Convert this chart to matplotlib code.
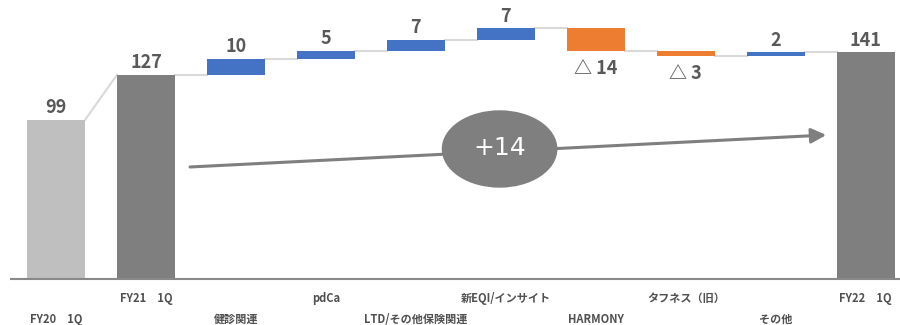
import matplotlib
matplotlib.use("Agg")
import matplotlib.pyplot as plt
from matplotlib.patches import Ellipse
import numpy as np

plt.rcParams["font.family"] = ["Noto Sans CJK JP", "DejaVu Sans"]

# data
categories = ["FY20\u30001Q", "FY21\u30001Q", "健診関連", "pdCa", "LTD/その他保険関連",
              "新EQI/インサイト", "HARMONY", "タフネス（旧）", "その他", "FY22\u30001Q"]
start_value = 99
base_value = 127
deltas = [10, 5, 7, 7, -14, -3, 2]
end_value = 141
total_change = "+14"

C_PREV = "#bfbfbf"
C_TOTAL = "#7f7f7f"
C_UP = "#4472c4"
C_DOWN = "#ed7d31"
C_LINE = "#d9d9d9"
C_TEXT = "#595959"

fig = plt.figure(figsize=(9, 3.25), dpi=100)
ax = fig.add_axes([11 / 900, 46 / 325, 889 / 900, 279 / 325])
ax.set_xlim(-0.5, 9.38)
ax.set_ylim(0, 173.6)
w = 0.645

x = np.arange(len(categories))
# totals
ax.bar(x[0], start_value, w, color=C_PREV, zorder=2)
ax.bar(x[1], base_value, w, color=C_TOTAL, zorder=2)
ax.bar(x[-1], end_value, w, color=C_TOTAL, zorder=2)

lab = dict(ha="center", color=C_TEXT, fontsize=13, fontweight="bold")
ax.annotate(str(start_value), (x[0], start_value), xytext=(0, 2), textcoords="offset points", va="bottom", **lab)
ax.annotate(str(base_value), (x[1], base_value), xytext=(0, 2), textcoords="offset points", va="bottom", **lab)
ax.annotate(str(end_value), (x[-1], end_value), xytext=(0, 2), textcoords="offset points", va="bottom", **lab)

# diagonal connector
ax.plot([x[0] + w / 2, x[1] - w / 2], [start_value, base_value], color=C_LINE, lw=1.5, zorder=1)

level = base_value
for i, d in enumerate(deltas):
    xi = x[i + 2]
    ax.plot([xi - 1 + w / 2, xi - w / 2], [level, level], color=C_LINE, lw=1.5, zorder=1)
    if d >= 0:
        ax.bar(xi, d, w, bottom=level, color=C_UP, zorder=2)
        ax.annotate(str(d), (xi, level + d), xytext=(0, 2), textcoords="offset points", va="bottom", **lab)
    else:
        ax.bar(xi, d, w, bottom=level, color=C_DOWN, zorder=2)
        ax.annotate(f"△ {-d}", (xi, level + d), xytext=(0, -6), textcoords="offset points", va="top", **lab)
    level += d
ax.plot([x[-2] + w / 2, x[-1] - w / 2], [level, level], color=C_LINE, lw=1.5, zorder=1)

# staggered category labels
for i, c in enumerate(categories):
    off = -14 if i % 2 else -29
    ax.annotate(c, (x[i], 0), xycoords="data", xytext=(0, off), textcoords="offset points",
                ha="center", va="center", fontsize=8, fontweight="bold", color="#505050",
                annotation_clip=False)

# overall change arrow + bubble
ax.annotate("", xy=(8.56, 89.6), xytext=(1.49, 69.7),
            arrowprops=dict(arrowstyle="-|>,head_length=0.9,head_width=0.45", color=C_TOTAL, lw=2.2,
                            shrinkA=0, shrinkB=0), zorder=3)
ax.add_patch(Ellipse((4.93, 80.9), 1.27, 47.3, color=C_TOTAL, zorder=4))
ax.text(4.93, 81.5, total_change, ha="center", va="center", color="white", fontsize=18,
        family="Liberation Sans Narrow", zorder=5)

for s in ["top", "left", "right"]:
    ax.spines[s].set_visible(False)
ax.spines["bottom"].set_color("#898989")
ax.spines["bottom"].set_linewidth(1.5)
ax.set_xticks([])
ax.set_yticks([])

fig.savefig("out.png", dpi=100)
